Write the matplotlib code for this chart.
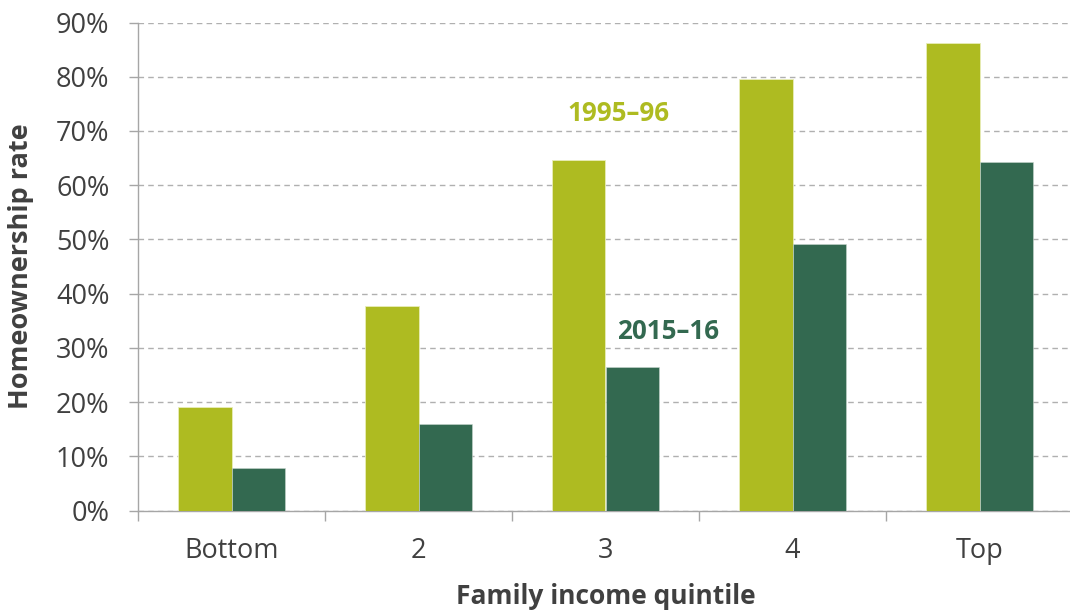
import matplotlib
matplotlib.use("Agg")
import matplotlib.pyplot as plt
import numpy as np
from matplotlib.ticker import FixedLocator, PercentFormatter

categories = ["Bottom", "2", "3", "4", "Top"]
rate_1995 = [19.2, 37.7, 64.7, 79.5, 86.3]
rate_2015 = [7.9, 16.0, 26.5, 49.1, 64.2]
yticks = [0, 10, 20, 30, 40, 50, 60, 70, 80, 90]

plt.rcParams['font.family'] = ['Open Sans', 'DejaVu Sans']

c1995 = "#AEBB21"
c2015 = "#336950"
textc = "#404040"
axc = "#A6A6A6"

fig = plt.figure(figsize=(10.7, 6.1), dpi=100)
ax = fig.add_axes([138/1070, (610-510.7)/610, 935/1070, (510.7-22.5)/610])

x = np.arange(len(categories))
w = 0.285
ax.bar(x - w/2, rate_1995, w, color=c1995, edgecolor="#E8EDB8", linewidth=0.6, zorder=3)
ax.bar(x + w/2, rate_2015, w, color=c2015, edgecolor="#C8D6CE", linewidth=0.4, zorder=3)

ax.set_xlim(-0.5, len(categories) - 0.5)
ax.set_ylim(0, 90)
ax.set_yticks(yticks)
ax.yaxis.set_major_formatter(PercentFormatter(decimals=0))
ax.grid(axis="y", linestyle=(0, (4, 3)), color="#B0B0B0", linewidth=1.0, zorder=0)

ax.set_xticks(x)
ax.set_xticklabels(categories)
ax.xaxis.set_minor_locator(FixedLocator(np.arange(-0.5, len(categories), 1.0)))
ax.tick_params(axis="x", which="major", length=0, pad=19, labelsize=19.5, labelcolor=textc)
ax.tick_params(axis="x", which="minor", length=7, width=1, color=axc, direction="out")
ax.tick_params(axis="y", length=6.5, width=1, color=axc, labelsize=19.5, labelcolor=textc, pad=14)

for s in ["top", "right"]:
    ax.spines[s].set_visible(False)
for s in ["left", "bottom"]:
    ax.spines[s].set_color(axc)
    ax.spines[s].set_linewidth(1.0)

ax.set_xlabel("Family income quintile", fontsize=19, fontweight="bold", color=textc, labelpad=13)
ax.set_ylabel("Homeownership rate", fontsize=19.5, fontweight="bold", color=textc, labelpad=16)

ax.text(2.07, 73.3, "1995–96", color=c1995, fontsize=18.7, fontweight="bold", ha="center", va="center")
ax.text(2.334, 33.1, "2015–16", color=c2015, fontsize=18.7, fontweight="bold", ha="center", va="center")

fig.savefig("out.png", dpi=100)
